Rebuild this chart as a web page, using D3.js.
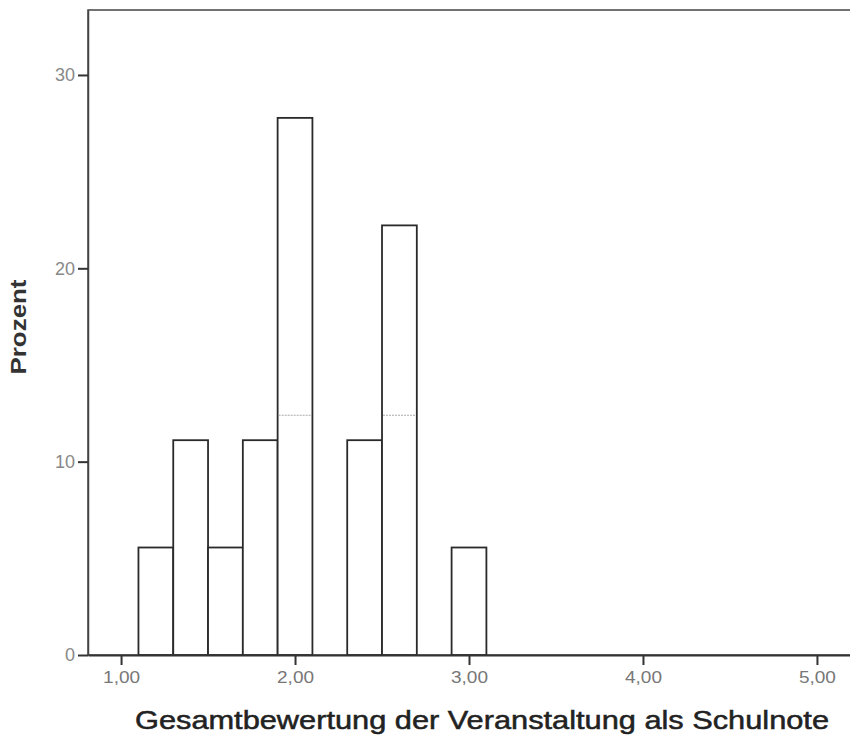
<!DOCTYPE html>
<html>
<head>
<meta charset="utf-8">
<script src="https://cdn.jsdelivr.net/npm/d3@7"></script>
<style>
  body { margin: 0; background: #fff; }
</style>
</head>
<body>
<script>
// histogram bins (lower edge), bin width and percent
const binStarts = [1.1, 1.3, 1.5, 1.7, 1.9, 2.3, 2.5, 2.9];
const binWidth = 0.2;
const percent = [5.56, 11.11, 5.56, 11.11, 27.78, 11.11, 22.22, 5.56];
// faint dashed marks seen inside two bars
const markBins = [1.9, 2.5];
const markLevel = [12.4, 12.4];

const yTicks = [0, 10, 20, 30];
const xTicks = [1, 2, 3, 4, 5];
const xTickLabels = ["1,00", "2,00", "3,00", "4,00", "5,00"];

const W = 850, H = 740;
const mLeft = 88, mRight = 850, mTop = 10, mBottom = 655;

const svg = d3.select("body").append("svg")
  .attr("width", W)
  .attr("height", H);

const x = d3.scaleLinear().domain([0.81, 5.19]).range([mLeft, mRight]);
const y = d3.scaleLinear().domain([0, 33.36]).range([mBottom, mTop]);

// frame (top line, left side)
svg.append("rect")
  .attr("x", mLeft).attr("y", mTop)
  .attr("width", mRight - mLeft + 20).attr("height", mBottom - mTop)
  .attr("fill", "none")
  .attr("stroke", "#444")
  .attr("stroke-width", 1.5);

const bins = binStarts.map((b, i) => ({x0: b, x1: b + binWidth, v: percent[i]}));

svg.selectAll("rect.bar")
  .data(bins)
  .enter().append("rect")
    .attr("class", "bar")
    .attr("x", d => x(d.x0))
    .attr("y", d => y(d.v))
    .attr("width", d => x(d.x1) - x(d.x0))
    .attr("height", d => y(0) - y(d.v))
    .attr("fill", "#fff")
    .attr("stroke", "#2a2a2a")
    .attr("stroke-width", 1.8);

svg.selectAll("line.mark")
  .data(markBins.map((b, i) => ({x0: b, x1: b + binWidth, v: markLevel[i]})))
  .enter().append("line")
    .attr("class", "mark")
    .attr("x1", d => x(d.x0) + 1).attr("x2", d => x(d.x1) - 1)
    .attr("y1", d => y(d.v)).attr("y2", d => y(d.v))
    .attr("stroke", "#aaa")
    .attr("stroke-width", 1.2)
    .attr("stroke-dasharray", "2,1");

// y axis
const yAxis = svg.append("g")
  .attr("transform", `translate(${mLeft},0)`)
  .call(d3.axisLeft(y).tickValues(yTicks).tickSize(10).tickSizeOuter(0).tickPadding(3));
yAxis.select(".domain").attr("stroke", "#444").attr("stroke-width", 1.5);
yAxis.selectAll(".tick line").attr("stroke", "#333").attr("stroke-width", 2);
yAxis.selectAll(".tick text")
  .attr("font-family", "Liberation Sans, Arial, sans-serif")
  .attr("font-size", "18px")
  .attr("fill", "#888");

// x axis
const xAxis = svg.append("g")
  .attr("transform", `translate(0,${mBottom})`)
  .call(d3.axisBottom(x).tickValues(xTicks).tickSize(10).tickSizeOuter(0)
    .tickFormat((d, i) => xTickLabels[i]).tickPadding(6));
xAxis.select(".domain").attr("stroke", "#333").attr("stroke-width", 2);
xAxis.selectAll(".tick line").attr("stroke", "#333").attr("stroke-width", 2);
xAxis.selectAll(".tick text")
  .attr("font-family", "Liberation Sans, Arial, sans-serif")
  .attr("font-size", "17px")
  .attr("fill", "#777")
  .attr("textLength", 37)
  .attr("lengthAdjust", "spacingAndGlyphs");

// axis titles
svg.append("text")
  .attr("x", 482)
  .attr("y", 729)
  .attr("text-anchor", "middle")
  .attr("font-family", "Liberation Sans, Arial, sans-serif")
  .attr("font-size", "25px")
  .attr("fill", "#222")
  .attr("stroke", "#222")
  .attr("stroke-width", 0.5)
  .attr("textLength", 694)
  .attr("lengthAdjust", "spacingAndGlyphs")
  .text("Gesamtbewertung der Veranstaltung als Schulnote");

svg.append("text")
  .attr("transform", "translate(26,327) rotate(-90)")
  .attr("text-anchor", "middle")
  .attr("font-family", "Liberation Sans, Arial, sans-serif")
  .attr("font-size", "22px")
  .attr("font-weight", "bold")
  .attr("fill", "#333")
  .attr("textLength", 95)
  .attr("lengthAdjust", "spacingAndGlyphs")
  .text("Prozent");
</script>
</body>
</html>
